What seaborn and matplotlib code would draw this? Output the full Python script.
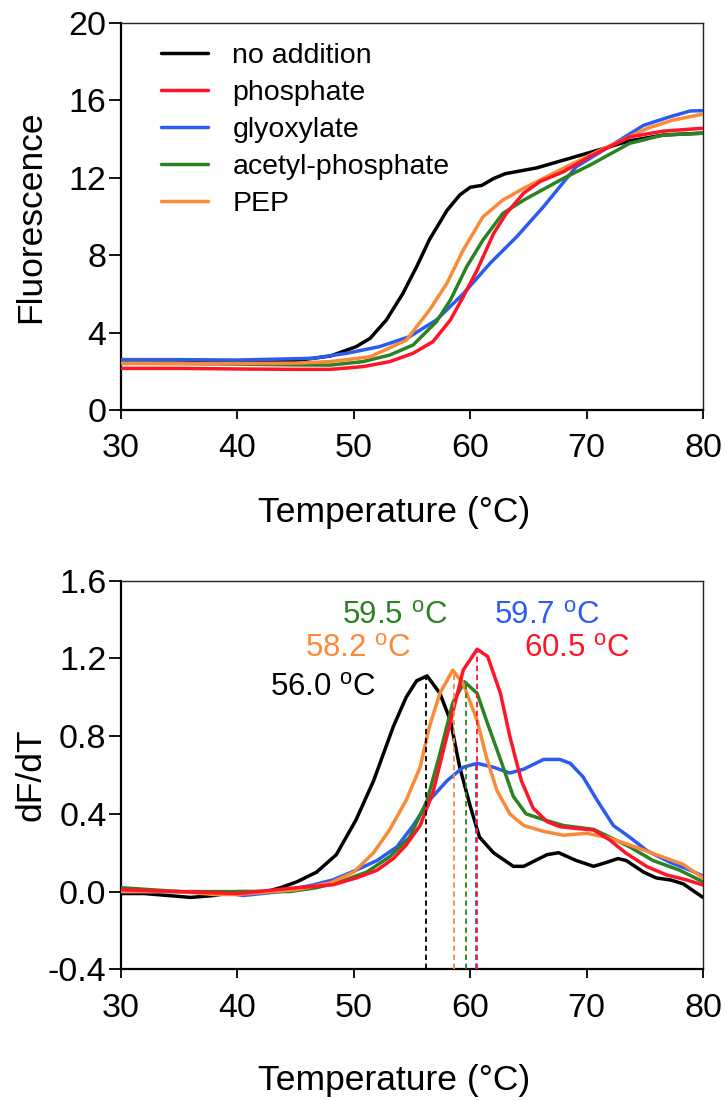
import numpy as np
import pandas as pd
import matplotlib
matplotlib.use("Agg")
import matplotlib.pyplot as plt
import seaborn as sns
from matplotlib.lines import Line2D

# ---------------- data ----------------
series_names = ["no addition", "phosphate", "glyoxylate", "acetyl-phosphate", "PEP"]
series_colors = ["#000000", "#FF1428", "#2B5CF2", "#2C8124", "#FA8A38"]

# Top panel: melt curves (Fluorescence vs Temperature)
T_noadd = [30, 35, 40, 45, 48, 50.2, 51.4, 52.8, 54.2, 55.4, 56.5, 58, 59.1, 60, 61, 62, 63, 65.7, 68, 70.3, 73.7, 76.6, 80]
F_noadd = [2.6, 2.58, 2.53, 2.55, 2.79, 3.27, 3.7, 4.65, 6.0, 7.4, 8.8, 10.3, 11.1, 11.5, 11.6, 11.95, 12.2, 12.5, 12.9, 13.3, 13.9, 14.2, 14.3]

T_phos = [30, 35, 40, 45, 48, 50.8, 53.1, 55.1, 56.8, 58.3, 59.4, 60.6, 62, 63.1, 64.6, 66, 68, 70.3, 73.7, 76.6, 80]
F_phos = [2.15, 2.15, 2.12, 2.1, 2.1, 2.24, 2.5, 2.93, 3.53, 4.65, 5.85, 7.23, 9.1, 10.15, 11.2, 11.8, 12.3, 13.1, 14.1, 14.4, 14.55]

T_glyo = [30, 35, 40, 46.5, 49.4, 52.2, 54.8, 57.1, 59.4, 61.7, 64, 66.3, 69.1, 71.4, 74.9, 77.2, 78.9, 80]
F_glyo = [2.6, 2.6, 2.58, 2.67, 2.93, 3.27, 3.79, 4.65, 6.0, 7.57, 8.95, 10.5, 12.56, 13.4, 14.7, 15.15, 15.44, 15.46]

T_acp = [30, 35, 40, 45, 48, 50.8, 53.1, 55.1, 57.1, 58.3, 59.7, 61.1, 62.8, 64.6, 68, 70.3, 73.7, 76.6, 80]
F_acp = [2.42, 2.4, 2.37, 2.33, 2.32, 2.5, 2.84, 3.36, 4.56, 5.68, 7.4, 8.78, 10.15, 10.84, 11.96, 12.65, 13.77, 14.2, 14.29]

T_pep = [30, 35, 40, 45, 48, 51.4, 54.5, 56.5, 58, 59.4, 61.1, 62.8, 64.6, 68, 70.9, 75.2, 77.4, 80]
F_pep = [2.4, 2.4, 2.4, 2.42, 2.5, 2.75, 3.6, 5.16, 6.54, 8.26, 9.98, 10.84, 11.45, 12.48, 13.34, 14.54, 14.97, 15.28]

# Bottom panel: first derivative dF/dT
dT_noadd = [30, 32, 34, 36, 38, 40, 42.5, 43.7, 45.1, 46.8, 48.5, 50.2, 51.7, 53.4, 54.5, 55.4, 56.3, 57.4, 58.3, 59.1, 60, 60.8, 62, 63.7, 64.6, 66.6, 67.6, 69.1, 70.6, 71.7, 72.7, 73.4, 74.9, 76, 77.2, 78.3, 80]
dF_noadd = [-0.01, -0.01, -0.02, -0.03, -0.02, 0.0, 0.0, 0.02, 0.05, 0.10, 0.19, 0.37, 0.57, 0.85, 1.0, 1.085, 1.11, 1.02, 0.88, 0.64, 0.44, 0.28, 0.2, 0.13, 0.13, 0.19, 0.20, 0.16, 0.13, 0.15, 0.17, 0.16, 0.10, 0.07, 0.06, 0.04, -0.03]

dT_phos = [30, 35, 40, 45.1, 48.2, 50.2, 52, 53.4, 54.5, 55.7, 56.8, 58, 59.4, 60.6, 61.5, 62.6, 63.4, 64.4, 65.4, 66.6, 67.7, 69.1, 70.6, 72, 73.4, 75.2, 76.9, 78.6, 80]
dF_phos = [0.01, 0.0, -0.01, 0.02, 0.035, 0.07, 0.11, 0.17, 0.24, 0.34, 0.51, 0.80, 1.14, 1.247, 1.21, 1.02, 0.80, 0.57, 0.43, 0.36, 0.334, 0.325, 0.317, 0.265, 0.197, 0.128, 0.085, 0.06, 0.034]

dT_glyo = [30, 35, 39.4, 40.5, 43.7, 46.5, 48.2, 50.2, 52, 53.7, 55.1, 56.5, 58, 59.4, 60.6, 62, 63.4, 64.6, 66.3, 67.7, 68.6, 69.7, 70.9, 72.3, 73.7, 75.2, 77.2, 78.9, 80]
dF_glyo = [0.0, 0.0, -0.01, -0.02, 0.0, 0.034, 0.06, 0.11, 0.16, 0.23, 0.34, 0.47, 0.57, 0.64, 0.66, 0.64, 0.61, 0.63, 0.68, 0.68, 0.66, 0.59, 0.47, 0.34, 0.28, 0.21, 0.15, 0.11, 0.08]

dT_acp = [30, 35, 40, 44.5, 46.8, 48.8, 51.1, 53.1, 54.8, 56.3, 57.4, 58.5, 59.5, 60.6, 61.4, 62.6, 63.7, 64.8, 66.3, 68, 70.6, 72, 73.7, 75.7, 78, 80]
dF_acp = [0.02, 0.0, 0.0, 0.0, 0.02, 0.05, 0.10, 0.18, 0.28, 0.47, 0.71, 0.97, 1.08, 1.02, 0.88, 0.68, 0.49, 0.40, 0.37, 0.34, 0.32, 0.28, 0.23, 0.16, 0.11, 0.05]

dT_pep = [30, 35, 38, 40, 45.1, 48, 50, 51.7, 53.1, 54.5, 55.7, 56.5, 57.4, 58.5, 59.4, 60.6, 61.4, 62.3, 63.4, 64.6, 66.3, 68, 70, 71.7, 73.7, 76, 78.3, 80]
dF_pep = [0.0, 0.0, -0.015, -0.015, 0.01, 0.045, 0.1, 0.2, 0.32, 0.47, 0.64, 0.85, 1.02, 1.14, 1.07, 0.88, 0.69, 0.52, 0.40, 0.34, 0.31, 0.29, 0.30, 0.28, 0.24, 0.19, 0.14, 0.07]

# Melting temperatures (dashed markers) and labels
tm_series = ["no addition", "PEP", "acetyl-phosphate", "glyoxylate", "phosphate"]
tm_x = [56.2, 58.6, 59.6, 60.5, 60.6]
tm_top = [1.11, 1.14, 1.08, 0.66, 1.247]
tm_labels = ["56.0 $^{\\mathregular{o}}$C", "58.2 $^{\\mathregular{o}}$C", "59.5 $^{\\mathregular{o}}$C",
             "59.7 $^{\\mathregular{o}}$C", "60.5 $^{\\mathregular{o}}$C"]
tm_label_x = [47.4, 50.4, 53.5, 66.6, 69.2]
tm_label_y = [1.05, 1.25, 1.42, 1.42, 1.25]

x_ticks = [30, 40, 50, 60, 70, 80]
top_yticks = [0, 4, 8, 12, 16, 20]
bot_yticks = [-0.4, 0.0, 0.4, 0.8, 1.2, 1.6]
bot_yticklabels = ["-0.4", "0.0", "0.4", "0.8", "1.2", "1.6"]

# ---------------- build long tables ----------------
top_T = [T_noadd, T_phos, T_glyo, T_acp, T_pep]
top_F = [F_noadd, F_phos, F_glyo, F_acp, F_pep]
bot_T = [dT_noadd, dT_phos, dT_glyo, dT_acp, dT_pep]
bot_F = [dF_noadd, dF_phos, dF_glyo, dF_acp, dF_pep]

def long_table(Ts, Ys):
    frames = []
    for name, t, y in zip(series_names, Ts, Ys):
        frames.append(pd.DataFrame({"T": t, "y": y, "series": name}))
    return pd.concat(frames, ignore_index=True)

df_top = long_table(top_T, top_F)
df_bot = long_table(bot_T, bot_F)
palette = dict(zip(series_names, series_colors))

# ---------------- style ----------------
sns.set_style("ticks")
plt.rcParams["font.family"] = ["Liberation Sans", "DejaVu Sans"]
plt.rcParams["mathtext.fontset"] = "custom"
plt.rcParams["mathtext.rm"] = "Liberation Sans"
for key in ["text.color", "axes.labelcolor", "xtick.color", "ytick.color", "axes.edgecolor"]:
    plt.rcParams[key] = "black"

fig = plt.figure(figsize=(7.27, 11.01), dpi=100)
ax1 = fig.add_axes([0.1664, 0.6276, 0.8006, 0.3518])
ax2 = fig.add_axes([0.1664, 0.1196, 0.8006, 0.3530])

draw_order = ["no addition", "glyoxylate", "acetyl-phosphate", "PEP", "phosphate"]
LW = 2.5

def draw_lines(ax, df):
    for k, name in enumerate(draw_order):
        sub = df[df["series"] == name]
        sns.lineplot(data=sub, x="T", y="y", color=palette[name], lw=LW,
                     estimator=None, sort=False, ax=ax, legend=False, zorder=2 + k)

draw_lines(ax1, df_top)
draw_lines(ax2, df_bot)

# Legend (in series order)
handles = [Line2D([0], [0], color=c, lw=LW) for c in series_colors]
ax1.legend(handles, series_names, loc="upper left", bbox_to_anchor=(0.068, 0.948),
           frameon=False, fontsize=20.5, handlelength=1.68, handletextpad=0.84,
           labelspacing=0.39, borderpad=0, borderaxespad=0)

# dashed Tm lines and labels
for name, x, top, lab, lx, ly in zip(tm_series, tm_x, tm_top, tm_labels, tm_label_x, tm_label_y):
    ax2.vlines(x, -0.4, top, colors=palette[name], linestyles=(0, (3, 2)), lw=1.3, zorder=10)
    ax2.text(lx, ly, lab, color=palette[name], fontsize=22.5, ha="center", va="center")

for ax, yt, ylab in [(ax1, top_yticks, "Fluorescence"), (ax2, bot_yticks, "dF/dT")]:
    ax.set_xlim(30, 80)
    ax.set_xticks(x_ticks)
    ax.set_yticks(yt)
    ax.set_xlabel("Temperature (°C)", fontsize=25.5, color="black")
    ax.set_ylabel(ylab, fontsize=25.5, color="black")
    ax.tick_params(axis="both", labelsize=24.5, width=1.3, color="black", labelcolor="black")
    ax.tick_params(axis="y", length=8.4, pad=2)
    ax.tick_params(axis="x", length=6.7, pad=10)
    for side in ["left", "bottom"]:
        ax.spines[side].set_linewidth(1.6)
        ax.spines[side].set_color("black")
    for side in ["top", "right"]:
        ax.spines[side].set_linewidth(1.0)
        ax.spines[side].set_color("#222222")
    ax.yaxis.set_label_coords(-0.155, 0.5)
    ax.yaxis.label.set_va("center")

ax1.set_ylim(0, 20)
ax2.set_ylim(-0.4, 1.6)
ax2.set_yticklabels(bot_yticklabels)

ax1.xaxis.set_label_coords(0.469, -0.2884)
ax1.xaxis.label.set_va("baseline")
ax2.xaxis.set_label_coords(0.469, -0.3106)
ax2.xaxis.label.set_va("baseline")

fig.savefig("out.png", dpi=100)
